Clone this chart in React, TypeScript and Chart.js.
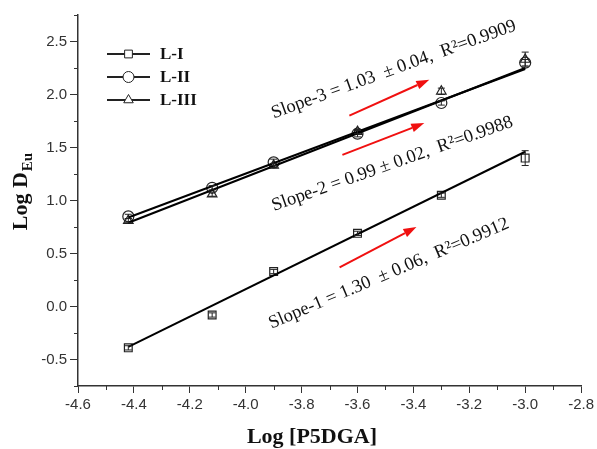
import React, { useEffect, useRef } from 'react';
import { Chart, registerables } from 'chart.js';

Chart.register(...registerables);

// ---------- data ----------
const xValues = [-4.42, -4.12, -3.9, -3.6, -3.3, -3.0];
const seriesLabels = ['L-I', 'L-II', 'L-III'];
const l1Values = [-0.39, -0.08, 0.33, 0.69, 1.05, 1.4];
const l2Values = [0.85, 1.12, 1.36, 1.63, 1.92, 2.3];
const l3Values = [0.81, 1.06, 1.33, 1.65, 2.03, 2.33];
const l1Errors = [0.02, 0.02, 0.02, 0.02, 0.02, 0.07];
const l2Errors = [0.02, 0.02, 0.03, 0.03, 0.02, 0.03];
const l3Errors = [0.02, 0.02, 0.02, 0.02, 0.03, 0.07];
const fitX = [-4.42, -3.0];
const l1Fit = [-0.38, 1.46];
const l2Fit = [0.84, 2.24];
const l3Fit = [0.79, 2.25];
const xTicks = [-4.6, -4.4, -4.2, -4.0, -3.8, -3.6, -3.4, -3.2, -3.0, -2.8];
const xMinorTicks = [-4.5, -4.3, -4.1, -3.9, -3.7, -3.5, -3.3, -3.1, -2.9];
const yTicks = [-0.5, 0.0, 0.5, 1.0, 1.5, 2.0, 2.5];
const yMinorTicks = [-0.75, -0.25, 0.25, 0.75, 1.25, 1.75, 2.25, 2.75];
const annotationTexts = [
  'Slope-3 = 1.03  \u00b1 0.04,  R\u00b2=0.9909',
  'Slope-2 = 0.99 \u00b1 0.02,  R\u00b2=0.9988',
  'Slope-1 = 1.30  \u00b1 0.06,  R\u00b2=0.9912',
];

const pointStyles = ['rect', 'circle', 'triangle'];
const seriesValues = [l1Values, l2Values, l3Values];
const seriesErrors = [l1Errors, l2Errors, l3Errors];
const fitValues = [l1Fit, l2Fit, l3Fit];

// layout of annotations (data coordinates of centre, angle in degrees)
const annotationLayout = [
  { x: -3.47, y: 2.235, angle: 20 },
  { x: -3.475, y: 1.345, angle: 19.5 },
  { x: -3.488, y: 0.31, angle: 23 },
];
const arrowLayout = [
  { x0: -3.629, y0: 1.8, x1: -3.343, y1: 2.14 },
  { x0: -3.654, y0: 1.43, x1: -3.361, y1: 1.73 },
  { x0: -3.664, y0: 0.369, x1: -3.389, y1: 0.75 },
];

const INK = '#222';

function drawMarker(ctx: CanvasRenderingContext2D, style: string, x: number, y: number, r: number) {
  ctx.beginPath();
  if (style === 'rect') {
    const s = r * Math.SQRT1_2;
    ctx.rect(x - s, y - s, 2 * s, 2 * s);
  } else if (style === 'circle') {
    ctx.arc(x, y, r, 0, Math.PI * 2);
  } else {
    ctx.moveTo(x, y - r);
    ctx.lineTo(x + r * 0.866, y + r * 0.5);
    ctx.lineTo(x - r * 0.866, y + r * 0.5);
    ctx.closePath();
  }
  ctx.fillStyle = '#fff';
  ctx.fill();
  ctx.stroke();
}

const decorPlugin = {
  id: 'decor',
  afterDatasetsDraw(chart: any) {
    const ctx: CanvasRenderingContext2D = chart.ctx;
    const xs = chart.scales.x;
    const ys = chart.scales.y;
    const area = chart.chartArea;

    // error bars
    ctx.save();
    ctx.strokeStyle = INK;
    ctx.lineWidth = 1;
    seriesValues.forEach((vals, si) => {
      vals.forEach((v, i) => {
        const px = xs.getPixelForValue(xValues[i]);
        const top = ys.getPixelForValue(v + seriesErrors[si][i]);
        const bot = ys.getPixelForValue(v - seriesErrors[si][i]);
        ctx.beginPath();
        ctx.moveTo(px, top);
        ctx.lineTo(px, bot);
        ctx.moveTo(px - 3.5, top);
        ctx.lineTo(px + 3.5, top);
        ctx.moveTo(px - 3.5, bot);
        ctx.lineTo(px + 3.5, bot);
        ctx.stroke();
      });
    });
    ctx.restore();

    // red arrows
    ctx.save();
    ctx.strokeStyle = '#f01010';
    ctx.fillStyle = '#f01010';
    ctx.lineWidth = 2;
    arrowLayout.forEach((a) => {
      const x0 = xs.getPixelForValue(a.x0);
      const y0 = ys.getPixelForValue(a.y0);
      const x1 = xs.getPixelForValue(a.x1);
      const y1 = ys.getPixelForValue(a.y1);
      const ang = Math.atan2(y1 - y0, x1 - x0);
      const hl = 13;
      const hw = 4.5;
      const bx = x1 - hl * Math.cos(ang);
      const by = y1 - hl * Math.sin(ang);
      ctx.beginPath();
      ctx.moveTo(x0, y0);
      ctx.lineTo(bx, by);
      ctx.stroke();
      ctx.beginPath();
      ctx.moveTo(x1, y1);
      ctx.lineTo(bx + hw * Math.sin(ang), by - hw * Math.cos(ang));
      ctx.lineTo(bx - hw * Math.sin(ang), by + hw * Math.cos(ang));
      ctx.closePath();
      ctx.fill();
    });
    ctx.restore();

    // rotated annotations
    ctx.save();
    ctx.fillStyle = '#111';
    ctx.font = '18.5px "Liberation Serif", serif';
    ctx.textAlign = 'center';
    ctx.textBaseline = 'middle';
    annotationTexts.forEach((t, i) => {
      const l = annotationLayout[i];
      ctx.save();
      ctx.translate(xs.getPixelForValue(l.x), ys.getPixelForValue(l.y));
      ctx.rotate((-l.angle * Math.PI) / 180);
      ctx.fillText(t, 0, 0);
      ctx.restore();
    });
    ctx.restore();

    // legend
    ctx.save();
    ctx.strokeStyle = INK;
    ctx.font = 'bold 17px "Liberation Serif", serif';
    ctx.textAlign = 'left';
    ctx.textBaseline = 'middle';
    seriesLabels.forEach((lab, i) => {
      const y = area.top + 39 + i * 23;
      const x0 = area.left + 29;
      ctx.lineWidth = 2;
      ctx.beginPath();
      ctx.moveTo(x0, y);
      ctx.lineTo(x0 + 43, y);
      ctx.stroke();
      ctx.lineWidth = 1;
      drawMarker(ctx, pointStyles[i], x0 + 21.5, y, 5.5);
      ctx.fillStyle = '#111';
      ctx.fillText(lab, x0 + 53, y + 1);
    });
    ctx.restore();
  },
  afterDraw(chart: any) {
    const ctx: CanvasRenderingContext2D = chart.ctx;
    const xs = chart.scales.x;
    const ys = chart.scales.y;
    const area = chart.chartArea;
    ctx.save();
    ctx.strokeStyle = '#333';
    ctx.lineWidth = 1;
    xMinorTicks.forEach((v) => {
      const px = Math.round(xs.getPixelForValue(v)) + 0.5;
      ctx.beginPath();
      ctx.moveTo(px, area.bottom);
      ctx.lineTo(px, area.bottom + 4);
      ctx.stroke();
    });
    yMinorTicks.forEach((v) => {
      const py = Math.round(ys.getPixelForValue(v)) + 0.5;
      ctx.beginPath();
      ctx.moveTo(area.left, py);
      ctx.lineTo(area.left - 4, py);
      ctx.stroke();
    });
    ctx.restore();

    // axis titles
    ctx.save();
    ctx.fillStyle = '#111';
    ctx.textBaseline = 'middle';
    ctx.textAlign = 'center';
    ctx.font = 'bold 22px "Liberation Serif", serif';
    ctx.fillText('Log [P5DGA]', 312, 437);

    ctx.translate(21, 192);
    ctx.rotate(-Math.PI / 2);
    ctx.textAlign = 'left';
    const main = 'Log D';
    const sub = 'Eu';
    ctx.font = 'bold 22px "Liberation Serif", serif';
    const w1 = ctx.measureText(main).width;
    ctx.font = 'bold 15px "Liberation Serif", serif';
    const w2 = ctx.measureText(sub).width;
    const start = -(w1 + w2) / 2;
    ctx.font = 'bold 22px "Liberation Serif", serif';
    ctx.fillText(main, start, 0);
    ctx.font = 'bold 15px "Liberation Serif", serif';
    ctx.fillText(sub, start + w1 + 1, 7);
    ctx.restore();
  },
};

export default function App() {
  const ref = useRef<HTMLCanvasElement | null>(null);

  useEffect(() => {
    document.body.style.margin = '0';
    const canvas = ref.current;
    if (!canvas) return;

    const pointSets = seriesLabels.map((lab, si) => ({
      type: 'scatter' as const,
      label: lab,
      data: xValues.map((x, i) => ({ x, y: seriesValues[si][i] })),
      showLine: false,
      pointStyle: pointStyles[si],
      pointRadius: 5.5,
      pointBorderWidth: 1.2,
      borderColor: INK,
      pointBackgroundColor: 'rgba(255,255,255,0)',
      backgroundColor: 'rgba(255,255,255,0)',
    }));
    const fitSets = seriesLabels.map((lab, si) => ({
      type: 'scatter' as const,
      label: lab + ' fit',
      data: fitX.map((x, i) => ({ x, y: fitValues[si][i] })),
      showLine: true,
      pointRadius: 0,
      borderColor: '#000',
      borderWidth: 2,
    }));

    const tickFont = { family: '"Liberation Sans", Arial, sans-serif', size: 15 };

    const chart = new Chart(canvas, {
      type: 'scatter',
      data: { datasets: [...fitSets, ...pointSets] as any },
      plugins: [decorPlugin],
      options: {
        animation: false,
        responsive: true,
        maintainAspectRatio: false,
        layout: { padding: { top: 15, right: 15, bottom: 0, left: 0 } },
        plugins: {
          legend: { display: false },
          tooltip: { enabled: false },
          title: { display: false },
        },
        scales: {
          x: {
            type: 'linear',
            min: -4.6,
            max: -2.8,
            afterBuildTicks: (s: any) => {
              s.ticks = xTicks.map((v) => ({ value: v }));
            },
            afterFit: (s: any) => {
              s.height = 63;
            },
            ticks: {
              font: tickFont,
              color: '#333',
              padding: 3,
              maxRotation: 0,
              autoSkip: false,
              callback: (v: any) => Number(v).toFixed(1),
            },
            grid: {
              drawOnChartArea: false,
              drawTicks: true,
              tickLength: 7,
              color: '#333',
              lineWidth: 1,
            },
            border: { display: true, color: '#333', width: 1.5 },
          },
          y: {
            type: 'linear',
            min: -0.75,
            max: 2.75,
            afterBuildTicks: (s: any) => {
              s.ticks = yTicks.map((v) => ({ value: v }));
            },
            afterFit: (s: any) => {
              s.width = 78;
            },
            ticks: {
              font: tickFont,
              color: '#333',
              padding: 3,
              autoSkip: false,
              callback: (v: any) => Number(v).toFixed(1),
            },
            grid: {
              drawOnChartArea: false,
              drawTicks: true,
              tickLength: 8,
              color: '#333',
              lineWidth: 1,
            },
            border: { display: true, color: '#333', width: 1.5 },
          },
        },
      } as any,
    });

    return () => chart.destroy();
  }, []);

  return (
    <div style={{ position: 'absolute', left: 0, top: 0, width: 597, height: 449, background: '#fff' }}>
      <canvas ref={ref} />
    </div>
  );
}
